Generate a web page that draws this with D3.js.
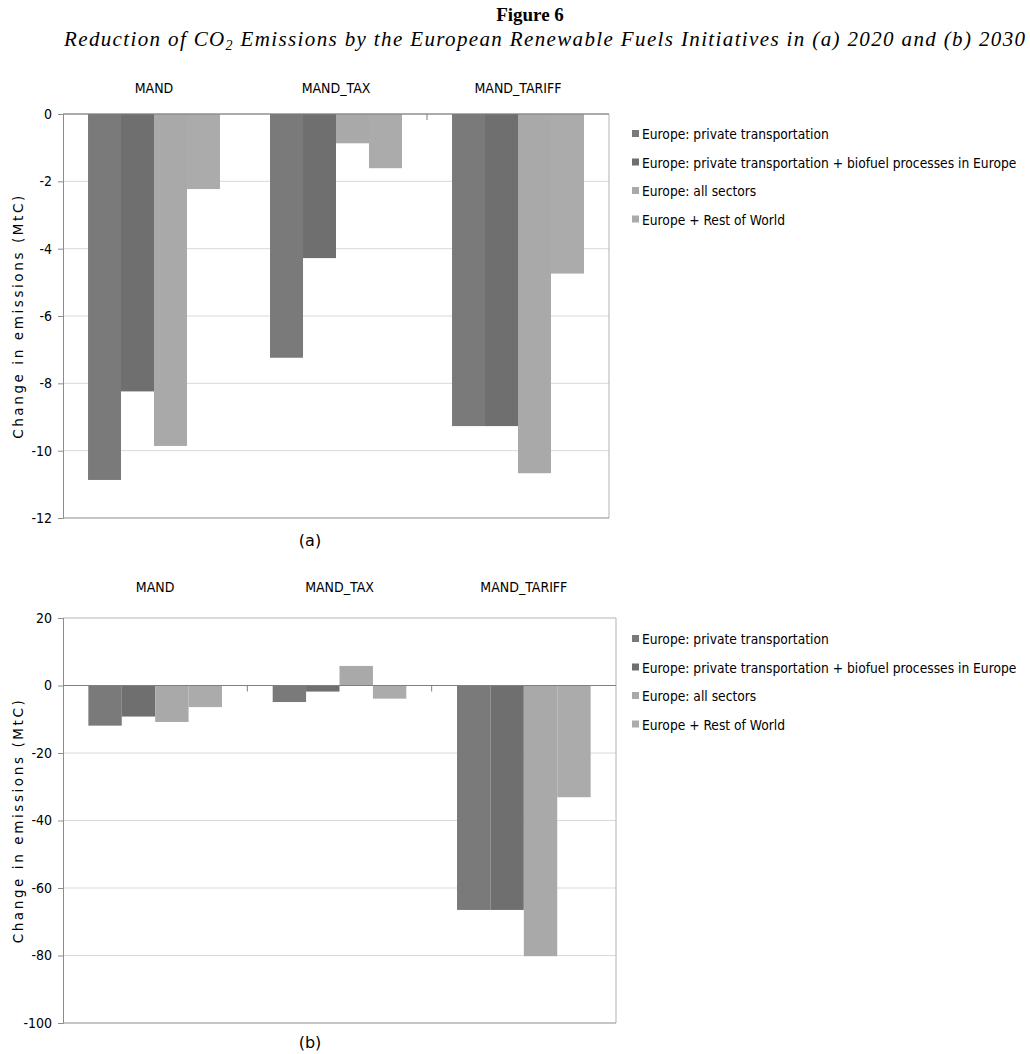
<!DOCTYPE html>
<html><head><meta charset="utf-8">
<script src="https://cdn.jsdelivr.net/npm/d3@7"></script>
<style>body{margin:0;background:#fff}</style>
</head><body>
<script>
const categories = ["MAND", "MAND_TAX", "MAND_TARIFF"];
const seriesNames = [
  "Europe: private transportation",
  "Europe: private transportation + biofuel processes in Europe",
  "Europe: all sectors",
  "Europe + Rest of World"
];
const seriesColors = ["#7a7a7a", "#6f6f6f", "#a9a9a9", "#ababab"];
// panel (a) 2020 values, per category, per series
const values2020 = [
  [-10.87, -8.24, -9.86, -2.23],
  [-7.24, -4.28, -0.87, -1.61],
  [-9.27, -9.27, -10.67, -4.74]
];
// panel (b) 2030 values
const values2030 = [
  [-11.9, -9.2, -10.8, -6.4],
  [-4.9, -1.8, 5.8, -3.9],
  [-66.5, -66.5, -80.2, -33.1]
];
const ticks2020 = [0, -2, -4, -6, -8, -10, -12];
const ticks2030 = [20, 0, -20, -40, -60, -80, -100];

const COND = "'DejaVu Sans Condensed', 'DejaVu Sans', sans-serif";
const W = 1030, H = 1054;
const svg = d3.select("body").append("svg").attr("width", W).attr("height", H);

// Title
svg.append("text").attr("x", 530).attr("y", 21).attr("text-anchor", "middle")
  .style("font-family", "'Liberation Serif', serif").style("font-weight", "bold").style("font-size", "19px")
  .text("Figure 6");
const sub = svg.append("text").attr("x", 64).attr("y", 46)
  .attr("textLength", 961).attr("lengthAdjust", "spacing")
  .style("font-family", "'Liberation Serif', serif").style("font-style", "italic").style("font-size", "21px");
sub.append("tspan").text("Reduction of CO");
sub.append("tspan").attr("baseline-shift", "-25%").style("font-size", "14px").text("2");
sub.append("tspan").text(" Emissions by the European Renewable Fuels Initiatives in (a) 2020 and (b) 2030");

function panel(cfg) {
  const g = svg.append("g");
  const x = d3.scaleBand().domain(categories).range([cfg.x0, cfg.x1]).padding(0);
  const bw = x.bandwidth();
  const xs = d3.scaleBand().domain(d3.range(seriesNames.length)).range([bw * 0.1375, bw * 0.8625]).padding(0);
  const y = d3.scaleLinear().domain(cfg.domain).range([cfg.y1, cfg.y0]);

  // gridlines
  g.selectAll(".grid").data(cfg.ticks.filter(t => t !== 0 && t !== cfg.domain[0] && t !== cfg.domain[1]))
    .join("line").attr("x1", cfg.x0).attr("x2", cfg.x1)
    .attr("y1", d => y(d)).attr("y2", d => y(d))
    .attr("stroke", "#d9d9d9").attr("stroke-width", 1);

  // plot border (top/right)
  g.append("line").attr("x1", cfg.x0).attr("x2", cfg.x1).attr("y1", y(cfg.domain[1])).attr("y2", y(cfg.domain[1]))
    .attr("stroke", "#b3b3b3");
  g.append("line").attr("x1", cfg.x1).attr("x2", cfg.x1).attr("y1", y(cfg.domain[1])).attr("y2", y(cfg.domain[0]))
    .attr("stroke", "#b3b3b3");

  // bars
  cfg.values.forEach((vals, ci) => {
    g.selectAll(null).data(vals).join("rect")
      .attr("x", (d, si) => x(categories[ci]) + xs(si))
      .attr("width", xs.bandwidth())
      .attr("y", d => y(Math.max(0, d)))
      .attr("height", d => Math.abs(y(d) - y(0)))
      .attr("fill", (d, si) => seriesColors[si]);
  });

  // bottom line
  g.append("line").attr("x1", cfg.x0).attr("x2", cfg.x1).attr("y1", y(cfg.domain[0])).attr("y2", y(cfg.domain[0]))
    .attr("stroke", "#8c8c8c");
  // zero line
  g.append("line").attr("x1", cfg.x0).attr("x2", cfg.x1).attr("y1", y(0)).attr("y2", y(0))
    .attr("stroke", "#7f7f7f");
  // category separator ticks
  g.selectAll(".sep").data(categories.slice(cfg.sepFrom)).join("line")
    .attr("x1", d => x(d)).attr("x2", d => x(d)).attr("y1", y(0)).attr("y2", y(0) + 6)
    .attr("stroke", "#7f7f7f");

  // y axis
  const ax = g.append("g").attr("transform", `translate(${cfg.x0},0)`)
    .call(d3.axisLeft(y).tickValues(cfg.ticks).tickSize(5).tickPadding(6).tickFormat(d => String(d)));
  ax.select(".domain").attr("stroke", "#8c8c8c");
  ax.selectAll(".tick line").attr("stroke", "#8c8c8c");
  ax.selectAll(".tick text").style("font-family", COND).style("font-size", "14px").attr("fill", "#000");

  // axis title
  g.append("text").attr("transform", `translate(23,${(cfg.y0 + cfg.y1) / 2}) rotate(-90)`)
    .attr("text-anchor", "middle")
    .style("font-family", "DejaVu Sans").style("font-size", "13.5px").style("letter-spacing", "2.6px")
    .text("Change in emissions (MtC)");

  // category labels at top
  g.selectAll(".cat").data(categories).join("text")
    .attr("x", d => x(d) + bw / 2).attr("y", cfg.catY).attr("text-anchor", "middle")
    .style("font-family", COND).style("font-size", "14px")
    .text(d => d);

  // panel label
  g.append("text").attr("x", 310).attr("y", cfg.labY).attr("text-anchor", "middle")
    .style("font-family", "DejaVu Sans").style("font-size", "16px").text(cfg.label);

  // legend
  const lg = g.append("g");
  seriesNames.forEach((s, i) => {
    const cy = cfg.legY + i * 28.5;
    lg.append("rect").attr("x", 632).attr("y", cy - 4).attr("width", 7).attr("height", 7).attr("fill", seriesColors[i]);
    lg.append("text").attr("x", 642).attr("y", cy + 5)
      .style("font-family", COND).style("font-size", "13.7px").text(s);
  });
}

panel({x0: 63, x1: 609, y0: 114, y1: 518, domain: [-12, 0], ticks: ticks2020, values: values2020,
  catY: 93, labY: 546, label: "(a)", legY: 134, sepFrom: 2});
panel({x0: 63, x1: 616, y0: 618, y1: 1023, domain: [-100, 20], ticks: ticks2030, values: values2030,
  catY: 592, labY: 1048, label: "(b)", legY: 639, sepFrom: 1});
</script>
</body></html>
